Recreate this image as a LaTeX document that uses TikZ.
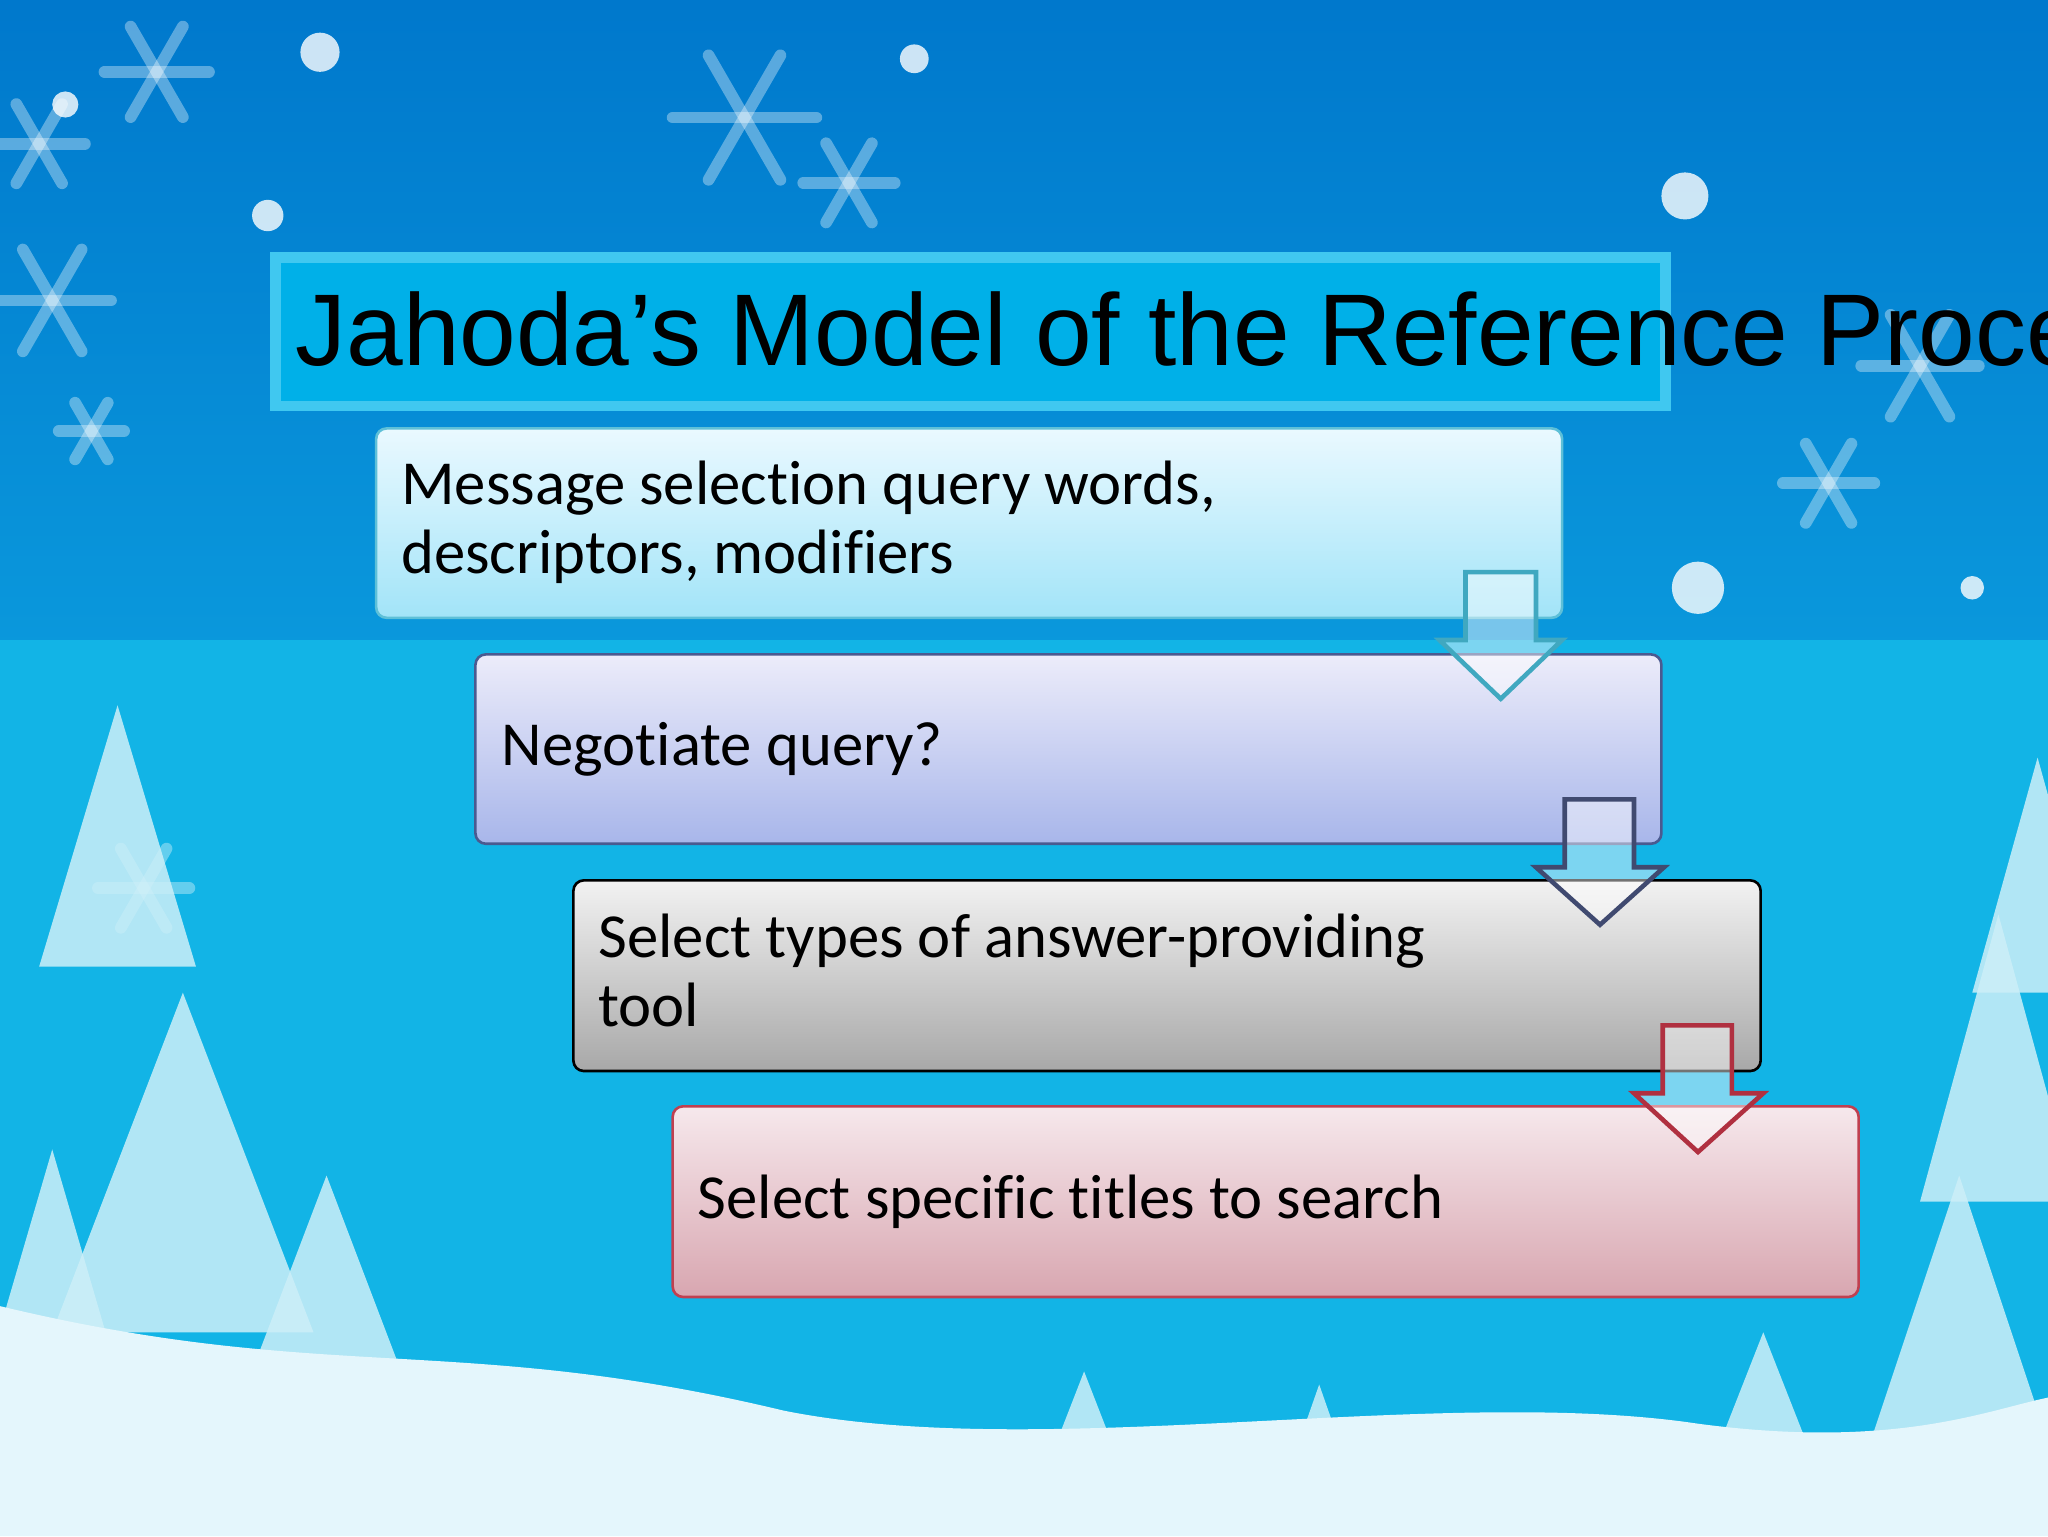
\documentclass[tikz,border=0pt]{standalone}
\usepackage{fontspec}
\setmainfont{Carlito}[Ligatures=NoCommon]
\newfontfamily\titlefont{Liberation Sans}
\usetikzlibrary{calc}
\definecolor{skyA}{HTML}{0078CC}
\definecolor{skyB}{HTML}{0A98DC}
\definecolor{seaA}{HTML}{12B4E6}
\definecolor{snowc}{HTML}{E4F6FC}
\definecolor{treec}{HTML}{CDEFF8}
\definecolor{tborder}{HTML}{40C8F0}
\definecolor{tfill}{HTML}{00B0E8}
\definecolor{aT}{HTML}{EAF9FF}\definecolor{aB}{HTML}{A2E4F8}\definecolor{aD}{HTML}{5EC0D8}
\definecolor{bT}{HTML}{ECECFA}\definecolor{bB}{HTML}{A8B6EA}\definecolor{bD}{HTML}{4A5A90}
\definecolor{cT}{HTML}{F2F2F2}\definecolor{cB}{HTML}{A8A8A8}
\definecolor{dT}{HTML}{F6E8EC}\definecolor{dB}{HTML}{D8A6B0}\definecolor{dD}{HTML}{C04050}
\definecolor{arA}{HTML}{40A8C0}\definecolor{arB}{HTML}{404A70}\definecolor{arC}{HTML}{B03040}
\tikzset{
  txt/.style={anchor=base west, font=\fontsize{48}{53}\selectfont, align=left, inner sep=0pt},
  darrow/.style={line width=3.5pt, fill=white, fill opacity=0.45, line join=miter},
  flake/.style={white, opacity=0.35, line width=9pt, line cap=round},
}
\begin{document}
\begin{tikzpicture}[x=1pt,y=-1pt]
\useasboundingbox (0,0) rectangle (1568,1176);
\clip (0,0) rectangle (1568,1176);
% background
\shade[top color=skyA, bottom color=skyB] (0,0) rectangle (1568,495);
\fill[seaA] (0,490) rectangle (1568,1176);
% snowflakes
\foreach \x/\y/\s in {120/55/40,570/90/55,650/140/35,40/230/45,70/330/25,1470/280/45,1400/370/35,110/680/35,30/110/35}{
  \foreach \a in {0,60,120}{\draw[flake] ($(\x,\y)+(\a:\s)$) -- ($(\x,\y)+(\a+180:\s)$);}
}
\foreach \x/\y/\r in {700/45/11,50/80/10,205/165/12,1290/150/18,245/40/15,1300/450/20,1510/450/9}{
  \fill[white,opacity=0.8] (\x,\y) circle (\r);
}
% trees
\foreach \x/\y/\w/\h in {90/540/60/200,140/760/100/260,250/900/80/210,40/880/70/240,1560/580/50/180,1530/700/60/220,1500/900/80/240,1350/1020/55/140,1010/1060/35/100,830/1050/35/90}{
  \fill[treec,opacity=0.85] (\x,\y) -- (\x-\w,\y+\h) -- (\x+\w,\y+\h) -- cycle;
}
% snow ground
\fill[snowc] (0,1000) .. controls (250,1060) and (350,1020) .. (600,1080) .. controls (800,1120) and (1100,1060) .. (1300,1090) .. controls (1450,1110) and (1520,1080) .. (1568,1070) -- (1568,1176) -- (0,1176) -- cycle;
% title
\node[draw=tborder, line width=8pt, fill=tfill, minimum width=1064, minimum height=114, anchor=north west, inner sep=0pt] (title) at (207,193) {};
\node[anchor=base west, inner sep=0pt, font=\titlefont\fontsize{78}{90}\selectfont] (titletext) at (226,280) {Jahoda’s Model of the Reference Process};
% boxes
\shade[rounded corners=8pt, top color=aT, bottom color=aB] (288,328) rectangle (1196,473);
\draw[rounded corners=8pt, line width=2pt, color=aD] (288,328) rectangle (1196,473);
\node (b1) [txt] at (307,439) {Message selection query words,\\descriptors, modifiers};
\shade[rounded corners=8pt, top color=bT, bottom color=bB] (364,501) rectangle (1272,646);
\draw[rounded corners=8pt, line width=2pt, color=bD] (364,501) rectangle (1272,646);
\node (b2) [txt] at (384,586) {Negotiate query?};
\shade[rounded corners=8pt, top color=cT, bottom color=cB] (439,674) rectangle (1348,820);
\draw[rounded corners=8pt, line width=2pt, color=black] (439,674) rectangle (1348,820);
\node (b3) [txt] at (458,786) {Select types of answer-providing\\tool};
\shade[rounded corners=8pt, top color=dT, bottom color=dB] (515,847) rectangle (1423,993);
\draw[rounded corners=8pt, line width=2pt, color=dD] (515,847) rectangle (1423,993);
\node (b4) [txt] at (534,933) {Select specific titles to search};
% arrows
\draw[darrow, draw=arA] (1122,438) -- (1176,438) -- (1176,490) -- (1196,490) -- (1149,535) -- (1102,490) -- (1122,490) -- cycle;
\draw[darrow, draw=arB] (1198,612) -- (1251,612) -- (1251,664) -- (1274,664) -- (1225,708) -- (1176,664) -- (1198,664) -- cycle;
\draw[darrow, draw=arC] (1273,785) -- (1326,785) -- (1326,837) -- (1350,837) -- (1300,882) -- (1251,837) -- (1273,837) -- cycle;
\end{tikzpicture}
\end{document}
